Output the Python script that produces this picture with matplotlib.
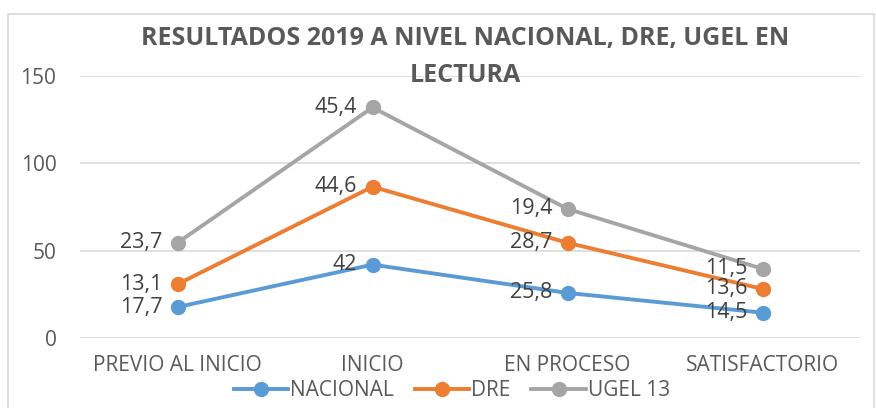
import matplotlib
matplotlib.use("Agg")
import matplotlib.pyplot as plt
from matplotlib.patches import Rectangle
import numpy as np

categories = ["PREVIO AL INICIO", "INICIO", "EN PROCESO", "SATISFACTORIO"]
nacional = [17.7, 42, 25.8, 14.5]
dre = [13.1, 44.6, 28.7, 13.6]
ugel = [23.7, 45.4, 19.4, 11.5]
series_names = ["NACIONAL", "DRE", "UGEL 13"]
colors = ["#5B9BD5", "#ED7D31", "#A5A5A5"]
yticks = [0, 50, 100, 150]

plt.rcParams['font.family'] = ['Open Sans', 'DejaVu Sans']
txt = "#595959"

fig = plt.figure(figsize=(8.76, 4.08), dpi=100)
ax = fig.add_axes([80/876, 1-338/408, 780/876, (338-76)/408])

x = np.arange(len(categories))
series = [nacional, dre, ugel]
cum = np.zeros(len(categories))
for vals, name, c in zip(series, series_names, colors):
    cum = cum + np.array(vals)
    ax.plot(x, cum, color=c, lw=2.8, marker='o', ms=10, label=name, zorder=3)
    for xi, yi, v in zip(x, cum, vals):
        lab = f"{v:g}".replace('.', ',')
        ax.annotate(lab, (xi, yi), xytext=(-11, 0), textcoords='offset points',
                    ha='right', va='center', fontsize=15.5, color='#404040', zorder=4)

ax.set_xlim(-0.5, 3.5)
ax.set_ylim(0, 150)
ax.set_yticks(yticks)
ax.set_xticks(x)
ax.set_xticklabels(categories)
ax.tick_params(axis='both', length=0, labelsize=15, colors=txt)
ax.tick_params(axis='y', pad=17)
ax.tick_params(axis='x', pad=12)
ax.grid(axis='y', color='#D9D9D9', lw=1.2)
ax.set_axisbelow(True)
for s in ax.spines.values():
    s.set_visible(False)

fig.text(465/876, 1-38/408, "RESULTADOS 2019 A NIVEL NACIONAL, DRE, UGEL EN", ha='center', va='center',
         fontsize=18, fontweight='bold', color=txt)
fig.text(465/876, 1-75/408, "LECTURA", ha='center', va='center',
         fontsize=18, fontweight='bold', color=txt)

leg = fig.legend(loc='center', bbox_to_anchor=(452/876, 1-391/408), ncol=3, frameon=False,
                 fontsize=15, handlelength=2.6, handletextpad=0.1, columnspacing=1.0,
                 borderaxespad=0, borderpad=0)
for t in leg.get_texts():
    t.set_color(txt)

fig.patches.append(Rectangle((8/876, -0.05), 866/876, 1.05-14/408, transform=fig.transFigure,
                             fill=False, edgecolor='#D9D9D9', lw=1.2))

fig.savefig("out.png", dpi=100)
